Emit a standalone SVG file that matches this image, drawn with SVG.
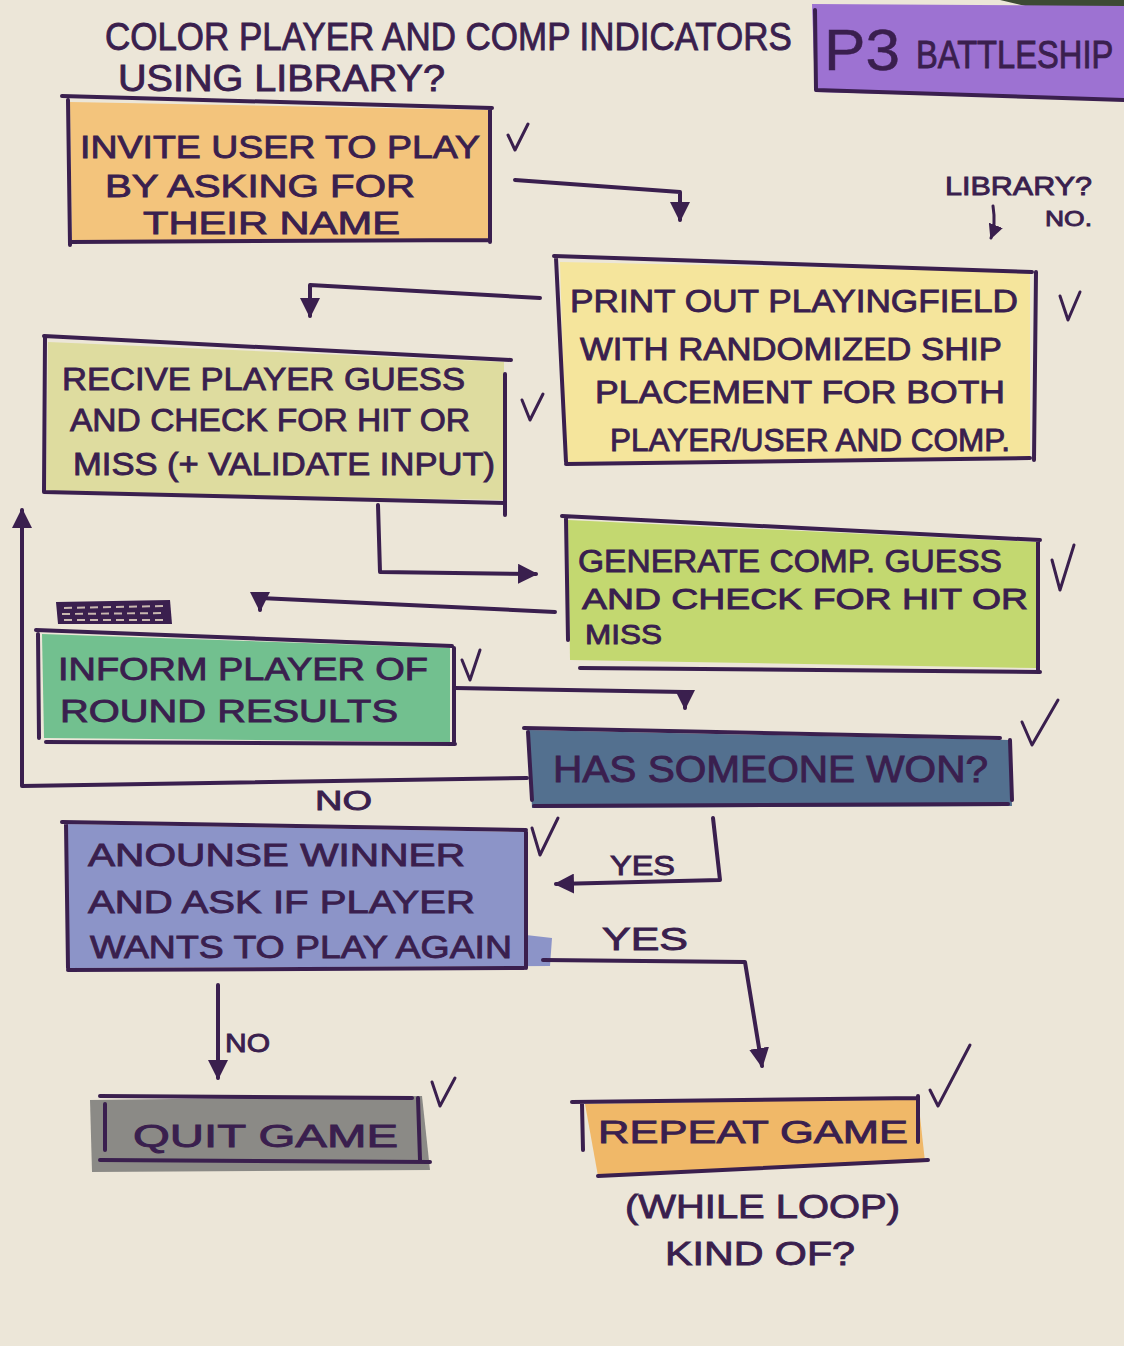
<svg xmlns="http://www.w3.org/2000/svg" width="1124" height="1346" viewBox="0 0 1124 1346">
<style>
.bg{fill:#ece6d8}
.ink{fill:none;stroke:#3a1f4e;stroke-width:4;stroke-linecap:round;stroke-linejoin:round}
.thin{fill:none;stroke:#3a1f4e;stroke-width:3;stroke-linecap:round;stroke-linejoin:round}
.t{font-family:"Liberation Sans",Arial,sans-serif;fill:#3a1f4e;stroke:#3a1f4e;stroke-width:0.9;font-size:32px}
.big{font-size:36px}
.sm{font-size:26px}
</style>
<defs>
<marker id="ah" viewBox="0 0 10 10" refX="9" refY="5" markerWidth="5" markerHeight="5" orient="auto" markerUnits="strokeWidth">
<path d="M0,0 L10,5 L0,10 Z" fill="#3a1f4e"/>
</marker>
</defs>
<rect class="bg" x="0" y="0" width="1124" height="1346"/>
<path d="M1000,0 L1124,0 L1124,25 L1050,12 Z" fill="#3d4a35"/>

<g id="title">
<path d="M812,4 L1124,6 L1124,100 L815,92 Z" fill="#9d72d2"/>
<path class="ink" d="M815,10 L816,90 L1124,100"/>
<text class="t" x="824" y="70" style="font-size:58px;stroke-width:0.5" textLength="76" lengthAdjust="spacingAndGlyphs">P3</text>
<g transform="translate(916,68) scale(0.86,1)">
<text class="t" x="0" y="0" style="font-size:38px">BATTLESHIP</text>
</g>
</g>

<g id="note-color">
<g transform="translate(105,50) scale(0.92,1)">
<text class="t" x="0" y="0" style="font-size:38px">COLOR PLAYER AND COMP INDICATORS</text>
</g>
<text class="t" x="118" y="91" style="font-size:36px" textLength="327" lengthAdjust="spacingAndGlyphs">USING LIBRARY?</text>
</g>

<g id="note-library">
<text class="t sm" x="945" y="195" textLength="147" lengthAdjust="spacingAndGlyphs">LIBRARY?</text>
<text class="t" x="1045" y="226" style="font-size:22px" textLength="47" lengthAdjust="spacingAndGlyphs">NO.</text>
<path class="thin" d="M993,206 Q996,225 991,238" marker-end="url(#ah)"/>
</g>

<g id="invite">
<path d="M70,102 L488,110 L488,240 L72,242 Z" fill="#f3c47c"/>
<path class="ink" d="M62,96 L492,108 M68,100 L70,245 M70,242 L490,240 M490,110 L490,242"/>
<text class="t" x="80" y="158" textLength="400" lengthAdjust="spacingAndGlyphs">INVITE USER TO PLAY</text>
<text class="t" x="105" y="197" textLength="310" lengthAdjust="spacingAndGlyphs">BY ASKING FOR</text>
<text class="t" x="143" y="234" textLength="257" lengthAdjust="spacingAndGlyphs">THEIR NAME</text>
<path class="thin" d="M508,135 L515,150 L528,124"/>
</g>

<g id="print">
<path d="M560,262 L1030,272 L1030,458 L566,462 Z" fill="#f5e59c"/>
<path class="ink" d="M554,256 L1032,272 M556,258 L566,462 M566,464 L1030,458 M1036,272 L1034,460"/>
<text class="t" x="570" y="312" textLength="448" lengthAdjust="spacingAndGlyphs">PRINT OUT PLAYINGFIELD</text>
<text class="t" x="580" y="360" textLength="422" lengthAdjust="spacingAndGlyphs">WITH RANDOMIZED SHIP</text>
<text class="t" x="595" y="403" textLength="410" lengthAdjust="spacingAndGlyphs">PLACEMENT FOR BOTH</text>
<text class="t" x="610" y="451" textLength="400" lengthAdjust="spacingAndGlyphs">PLAYER/USER AND COMP.</text>
<path class="thin" d="M1060,296 L1068,320 L1080,292"/>
</g>

<g id="receive">
<path d="M48,342 L504,362 L504,500 L46,492 Z" fill="#dedc9f"/>
<path class="ink" d="M44,336 L511,360 M45,338 L44,492 M44,492 L505,503 M505,374 L505,515"/>
<text class="t" x="62" y="390" textLength="403" lengthAdjust="spacingAndGlyphs">RECIVE PLAYER GUESS</text>
<text class="t" x="70" y="431" textLength="400" lengthAdjust="spacingAndGlyphs">AND CHECK FOR HIT OR</text>
<text class="t" x="73" y="475" textLength="422" lengthAdjust="spacingAndGlyphs">MISS (+ VALIDATE INPUT)</text>
<path class="thin" d="M522,400 L530,420 L543,394"/>
</g>

<g id="generate">
<path d="M568,520 L1036,542 L1036,668 L570,660 Z" fill="#c3d870"/>
<path class="ink" d="M562,516 L1040,540 M566,518 L568,640 M580,668 L1040,672 M1038,542 L1038,672"/>
<text class="t" x="578" y="572" textLength="424" lengthAdjust="spacingAndGlyphs">GENERATE COMP. GUESS</text>
<text class="t" x="582" y="609" style="font-size:30px" textLength="446" lengthAdjust="spacingAndGlyphs">AND CHECK FOR HIT OR</text>
<text class="t" x="585" y="644" style="font-size:27px" textLength="77" lengthAdjust="spacingAndGlyphs">MISS</text>
<path class="thin" d="M1052,560 L1060,590 L1074,545"/>
</g>

<g id="scribble">
<path d="M56,602 L170,600 L172,624 L58,624 Z" fill="#3a1f4e"/>
<path d="M64,608 L164,606 M62,614 L166,613 M64,620 L166,620" stroke="#c9b8b0" stroke-width="2" stroke-dasharray="8 5" fill="none"/>
</g>

<g id="inform">
<path d="M42,634 L450,648 L450,742 L44,738 Z" fill="#72c08f"/>
<path class="ink" d="M36,630 L452,646 M38,634 L39,738 M46,742 L455,744 M454,648 L454,742"/>
<text class="t" x="58" y="680" textLength="370" lengthAdjust="spacingAndGlyphs">INFORM PLAYER OF</text>
<text class="t" x="60" y="722" textLength="338" lengthAdjust="spacingAndGlyphs">ROUND RESULTS</text>
<path class="thin" d="M462,660 L470,680 L480,650"/>
</g>

<g id="won">
<path d="M528,730 L1010,740 L1012,806 L532,808 Z" fill="#53708f"/>
<path class="ink" d="M524,728 L1000,738 M528,732 L532,800 M534,806 L1008,804 M1010,740 L1012,800"/>
<text class="t big" x="553" y="782" textLength="435" lengthAdjust="spacingAndGlyphs">HAS SOMEONE WON?</text>
<path class="thin" d="M1022,722 L1032,745 L1058,700"/>
</g>

<g id="announce">
<path d="M66,824 L526,832 L526,935 L552,938 L550,966 L68,968 Z" fill="#8c94c8"/>
<path class="ink" d="M62,822 L526,830 M66,824 L68,968 M68,970 L524,968 M526,832 L526,968"/>
<text class="t" x="88" y="866" textLength="377" lengthAdjust="spacingAndGlyphs">ANOUNSE WINNER</text>
<text class="t" x="88" y="913" textLength="387" lengthAdjust="spacingAndGlyphs">AND ASK IF PLAYER</text>
<text class="t" x="90" y="958" textLength="422" lengthAdjust="spacingAndGlyphs">WANTS TO PLAY AGAIN</text>
<path class="thin" d="M532,828 L540,855 L558,818"/>
</g>

<g id="quit">
<path d="M90,1100 L422,1096 L430,1170 L92,1172 Z" fill="#8b8a86"/>
<path class="ink" d="M100,1096 L412,1098 M105,1104 L105,1150 M100,1160 L430,1162 M418,1098 L420,1160"/>
<text class="t" x="133" y="1147" textLength="265" lengthAdjust="spacingAndGlyphs">QUIT GAME</text>
<path class="thin" d="M432,1082 L440,1106 L455,1078"/>
</g>

<g id="repeat">
<path d="M585,1104 L918,1098 L925,1162 L598,1176 Z" fill="#f0b868"/>
<path class="ink" d="M572,1102 L918,1098 M582,1104 L583,1150 M598,1176 L928,1160 M918,1096 L918,1142"/>
<text class="t" x="598" y="1143" textLength="310" lengthAdjust="spacingAndGlyphs">REPEAT GAME</text>
<path class="thin" d="M930,1090 L938,1106 L970,1045"/>
<text class="t" x="625" y="1218" style="font-size:34px" textLength="275" lengthAdjust="spacingAndGlyphs">(WHILE LOOP)</text>
<text class="t" x="665" y="1265" style="font-size:34px" textLength="190" lengthAdjust="spacingAndGlyphs">KIND OF?</text>
</g>

<g id="connectors">
<path class="ink" d="M515,180 L680,192 L680,220" marker-end="url(#ah)"/>
<path class="ink" d="M540,298 L310,285 L310,316" marker-end="url(#ah)"/>
<path class="ink" d="M378,505 L380,572 L536,574" marker-end="url(#ah)"/>
<path class="ink" d="M555,612 L260,598 L260,610" marker-end="url(#ah)"/>
<path class="ink" d="M455,688 L685,692 L685,708" marker-end="url(#ah)"/>
<path class="ink" d="M527,778 L22,786 L22,510" marker-end="url(#ah)"/>
<path class="ink" d="M713,818 L720,880 L556,884" marker-end="url(#ah)"/>
<path class="ink" d="M543,960 L745,962 L762,1066" marker-end="url(#ah)"/>
<path class="ink" d="M218,985 L218,1078" marker-end="url(#ah)"/>
<text class="t" x="315" y="810" style="font-size:28px" textLength="57" lengthAdjust="spacingAndGlyphs">NO</text>
<text class="t" x="610" y="875" style="font-size:28px" textLength="65" lengthAdjust="spacingAndGlyphs">YES</text>
<text class="t" x="602" y="950" style="font-size:32px" textLength="86" lengthAdjust="spacingAndGlyphs">YES</text>
<text class="t sm" x="225" y="1052" textLength="45" lengthAdjust="spacingAndGlyphs">NO</text>
</g>
</svg>
